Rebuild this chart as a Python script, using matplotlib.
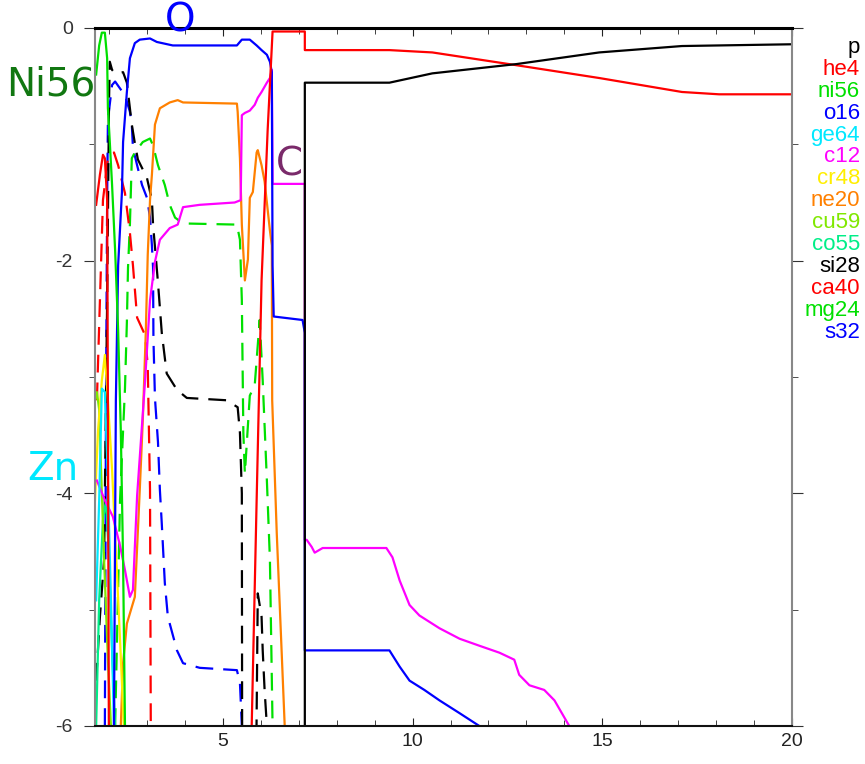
import numpy as np
import matplotlib
matplotlib.use('Agg')
import matplotlib.pyplot as plt
from matplotlib.ticker import MultipleLocator

# mass coordinate vs log10 mass fraction
LOW = -6.6  # below the plotted range (clipped)

p_x = [7.16, 7.16, 9.39, 10.52, 12.74, 14.92, 17.10, 19.97]
p_y = [LOW, -0.47, -0.47, -0.39, -0.31, -0.21, -0.155, -0.14]

he4_x = [1.66, 1.76, 1.84, 1.89, 1.95, 1.97, 2.00, 5.70, 5.76, 5.89, 6.02, 6.18, 6.31,
         7.16, 7.16, 9.39, 10.52, 12.74, 14.92, 17.10, 18.08, 19.97]
he4_y = [-1.52, -1.26, -1.09, -1.12, -1.48, -3.20, LOW, LOW, -6.0, -4.06, -2.17, -0.88, -0.03,
         -0.03, -0.19, -0.19, -0.21, -0.32, -0.43, -0.55, -0.57, -0.57]

ni56_x = [1.66, 1.74, 1.81, 1.89, 1.95, 1.97, 2.02, 2.08, 2.16, 2.24, 2.31, 2.37, 2.42]
ni56_y = [-0.40, -0.15, -0.04, -0.04, -0.26, -0.69, -0.98, -1.35, -1.91, -2.60, -3.46, -4.57, -6.0]

o16_x = [2.13, 2.18, 2.24, 2.34, 2.37, 2.47, 2.55, 2.68, 2.81, 3.08, 3.26, 3.68, 5.37, 5.50,
         5.71, 5.89, 6.02, 6.16, 6.24, 6.29, 6.31, 6.34, 7.10, 7.16, 7.16, 7.29, 9.39, 9.66,
         9.92, 10.31, 10.71, 11.24, 11.76]
o16_y = [-6.0, -3.20, -2.04, -1.41, -0.98, -0.55, -0.26, -0.13, -0.10, -0.09, -0.12, -0.15,
         -0.15, -0.10, -0.10, -0.15, -0.19, -0.23, -0.29, -0.38, -2.04, -2.48, -2.51, -2.62,
         -5.35, -5.35, -5.35, -5.49, -5.61, -5.69, -5.78, -5.89, -6.0]

ge64_x = [1.66, 1.74, 1.81, 1.89, 1.97, 2.05, 2.13]
ge64_y = [-4.92, -4.06, -3.10, -3.13, -3.89, -4.92, -6.0]

c12_x = [1.68, 1.89, 2.10, 2.29, 2.42, 2.55, 2.63, 2.74, 2.95, 3.08, 3.21, 3.34, 3.60, 3.81,
         3.95, 4.39, 5.31, 5.47, 5.50, 5.58, 5.71, 5.84, 5.92, 6.02, 6.16, 6.24, 6.29, 6.31,
         7.16, 7.16, 7.21, 7.34, 7.42, 7.63, 9.31, 9.47, 9.66, 9.92, 10.18, 10.71, 11.24,
         11.76, 12.29, 12.68, 12.81, 13.08, 13.47, 13.74, 14.13]
c12_y = [-3.89, -4.06, -4.20, -4.45, -4.66, -4.89, -4.83, -4.02, -3.03, -2.34, -2.01, -1.82,
         -1.72, -1.69, -1.54, -1.52, -1.50, -1.48, -0.75, -0.73, -0.71, -0.66, -0.60, -0.55,
         -0.47, -0.43, -0.36, -1.34, -1.34, -4.40, -4.40, -4.46, -4.51, -4.47, -4.47, -4.55,
         -4.75, -4.96, -5.05, -5.16, -5.25, -5.31, -5.37, -5.43, -5.56, -5.65, -5.69, -5.78, -6.0]

cr48_x = [1.63, 1.71, 1.81, 1.89, 1.97, 2.08, 2.18, 2.29, 2.39]
cr48_y = [-4.06, -3.46, -3.03, -2.81, -3.20, -3.80, -4.49, -5.26, -6.0]

ne20_x = [2.31, 2.37, 2.47, 2.68, 2.81, 2.89, 2.97, 3.02, 3.08, 3.13, 3.21, 3.34, 3.60, 3.81,
          3.95, 5.37, 5.39, 5.45, 5.50, 5.58, 5.66, 5.71, 5.79, 5.89, 5.92, 6.02, 6.10, 6.24,
          6.29, 6.30, 6.42, 6.63]
ne20_y = [-6.0, -5.46, -5.12, -4.89, -3.97, -3.37, -2.60, -1.95, -1.48, -1.26, -0.83, -0.69,
          -0.64, -0.62, -0.64, -0.65, -0.72, -1.12, -1.69, -2.17, -1.99, -1.46, -1.41, -1.07,
          -1.05, -1.18, -1.32, -1.74, -1.87, -3.20, -4.34, -6.0]

cu59_x = [1.63, 1.68, 1.74, 1.79, 1.87, 1.97, 2.05]
cu59_y = [-3.20, -3.13, -3.28, -3.80, -4.57, -5.43, -6.0]

co55_x = [1.66, 1.74, 1.84, 1.92, 2.00, 2.08, 2.16]
co55_y = [-6.0, -4.92, -4.23, -4.06, -4.57, -5.35, -6.0]

si28_x = [1.66, 1.76, 1.87, 1.95, 2.00, 2.02, 2.08, 2.16, 2.37, 2.47, 2.55, 2.60, 2.68, 2.76,
          3.00, 3.13, 3.16, 3.21, 3.29, 3.39, 3.52, 3.79, 4.05, 5.10, 5.39, 5.45, 5.50, 5.51,
          5.87, 5.92, 6.02, 6.05, 6.10, 6.16, 6.18]
si28_y = [-5.61, -5.06, -4.57, -2.34, -0.62, -0.29, -0.36, -0.39, -0.38, -0.47, -0.69, -0.83,
          -0.99, -1.13, -1.29, -1.48, -1.69, -1.88, -2.19, -2.62, -2.97, -3.11, -3.18, -3.20,
          -3.26, -3.48, -4.00, LOW, LOW, -4.86, -5.06, -5.35, -5.69, -6.0, LOW]

ca40_x = [1.68, 1.84, 1.97, 2.13, 2.24, 2.42, 2.55, 2.63, 2.74, 2.95, 3.02, 3.08, 3.10]
ca40_y = [-3.20, -1.48, -1.12, -1.07, -1.18, -1.42, -1.76, -2.04, -2.49, -2.64, -2.90, -3.97, -6.0]

mg24_x = [2.16, 2.29, 2.37, 2.42, 2.47, 2.50, 2.55, 2.60, 2.68, 2.89, 3.08, 3.16, 3.29, 3.47,
          3.60, 3.74, 3.95, 5.37, 5.45, 5.50, 5.52, 5.54, 5.58, 5.71, 5.84, 5.97, 6.05, 6.16,
          6.24, 6.31]
mg24_y = [-6.0, -4.06, -3.46, -3.10, -2.53, -2.06, -1.69, -1.12, -1.07, -0.98, -0.95, -1.01,
          -1.18, -1.35, -1.52, -1.63, -1.68, -1.69, -1.82, -2.34, -2.91, -3.48, -3.83, -3.16,
          -3.07, -2.51, -3.03, -3.89, -4.57, -6.0]

s32_x = [1.89, 1.92, 1.95, 1.97, 2.08, 2.16, 2.29, 2.42, 2.55, 2.60, 2.63, 2.74, 2.87, 3.00,
         3.08, 3.13, 3.16, 3.17, 3.21, 3.29, 3.34, 3.39, 3.47, 3.55, 3.79, 3.95, 4.39, 5.37,
         5.45, 5.50]
s32_y = [-6.0, -3.20, -1.48, -0.79, -0.49, -0.46, -0.52, -0.58, -0.72, -0.83, -1.03, -1.18,
         -1.35, -1.46, -1.63, -1.87, -2.06, -2.67, -3.18, -3.56, -3.97, -4.26, -4.77, -5.06,
         -5.35, -5.46, -5.50, -5.52, -5.63, -6.0]

species = ['p', 'he4', 'ni56', 'o16', 'ge64', 'c12', 'cr48', 'ne20',
           'cu59', 'co55', 'si28', 'ca40', 'mg24', 's32']
colors = ['black', '#ff0000', '#00e000', '#0000ff', '#00e8ff', '#ff00ff', '#ffee00', '#ff8000',
          '#80e800', '#00ee88', 'black', '#ff0000', '#00e000', '#0000ff']
dashed = [False] * 10 + [True] * 4
xs = [p_x, he4_x, ni56_x, o16_x, ge64_x, c12_x, cr48_x, ne20_x,
      cu59_x, co55_x, si28_x, ca40_x, mg24_x, s32_x]
ys = [p_y, he4_y, ni56_y, o16_y, ge64_y, c12_y, cr48_y, ne20_y,
      cu59_y, co55_y, si28_y, ca40_y, mg24_y, s32_y]

fig = plt.figure(figsize=(8.65, 7.64), dpi=100)
ax = fig.add_axes([95 / 865, 38 / 764, 697 / 865, 698 / 764])

# draw from the back of the legend to the front
for i in reversed(range(len(species))):
    if dashed[i]:
        ax.plot(xs[i], ys[i], color=colors[i], lw=1.6, dashes=(8, 4.5))
    else:
        ax.plot(xs[i], ys[i], color=colors[i], lw=1.6)

ax.set_xlim(1.63, 20)
ax.set_ylim(-6, 0)

ax.xaxis.set_major_locator(MultipleLocator(5))
ax.xaxis.set_minor_locator(MultipleLocator(1))
ax.yaxis.set_major_locator(MultipleLocator(2))
ax.yaxis.set_minor_locator(MultipleLocator(1))
ax.tick_params(axis='x', which='both', direction='in', top=True, bottom=True,
               colors='#222222', labelsize=14, pad=5)
ax.tick_params(axis='x', which='major', length=6)
ax.tick_params(axis='x', which='minor', length=4)
ax.tick_params(axis='y', which='both', direction='out', left=True, right=True,
               colors='#333333', labelsize=14, pad=8)
ax.tick_params(axis='y', which='major', length=8)
ax.tick_params(axis='y', which='minor', length=4)
ax.set_yticks([-6, -4, -2, 0])
ax.set_yticklabels(['-6', '-4', '-2', '0'])
for lab in ax.get_xticklabels() + ax.get_yticklabels():
    lab.set_family('Liberation Sans')

ax.spines['top'].set_linewidth(2.2)
ax.spines['top'].set_color('black')
ax.spines['bottom'].set_linewidth(1.5)
ax.spines['bottom'].set_color('#111111')
ax.spines['left'].set_color('#888888')
ax.spines['left'].set_linewidth(1.5)
ax.spines['right'].set_color('#888888')
ax.spines['right'].set_linewidth(1.5)

# species list on the right
for i, name in enumerate(species):
    fig.text(860 / 865, 1 - (53 + 21.9 * i) / 764, name, color=colors[i],
             ha='right', va='baseline', fontsize=16, family='Liberation Sans')

# big labels
fig.text(180 / 865, 1 - 31 / 764, 'O', color='#0000ff', fontsize=28, ha='center', va='baseline')
fig.text(6 / 865, 1 - 96 / 764, 'Ni56', color='#117711', fontsize=28, ha='left', va='baseline')
fig.text(276 / 865, 1 - 176 / 764, 'C', color='#7a2a6a', fontsize=28, ha='left', va='baseline')
fig.text(27 / 865, 1 - 480 / 764, 'Zn', color='#00e8ff', fontsize=28, ha='left', va='baseline')

fig.savefig('out.png', dpi=100)
